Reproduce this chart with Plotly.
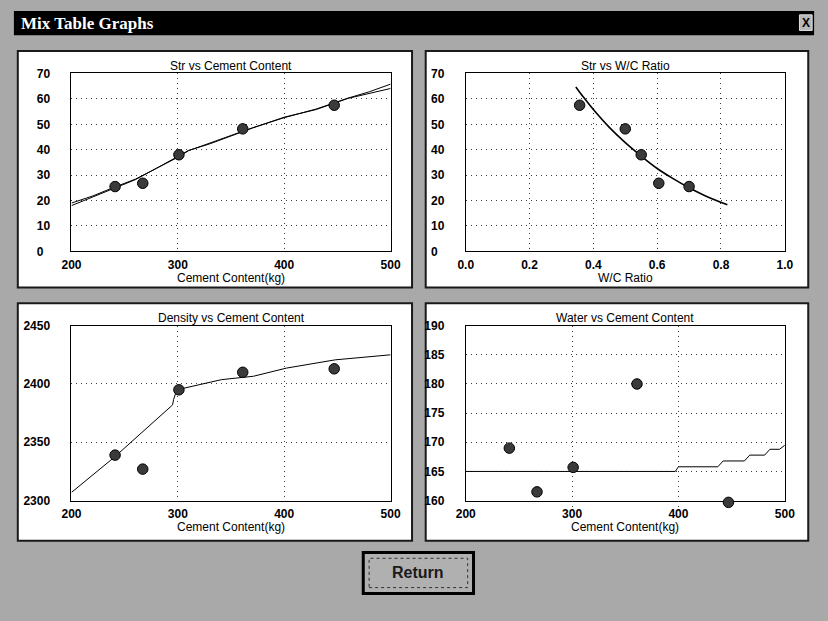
import plotly.graph_objects as go

W, H = 828, 621

# Measured mix data (5 trial batches)
cement = [241, 267, 301, 361, 447]          # kg
strength = [25.5, 26.8, 38.0, 48.2, 57.5]   # MPa
wc_ratio = [0.70, 0.605, 0.55, 0.50, 0.357]
density = [2339, 2327, 2395, 2410, 2413]
water = [169.0, 161.5, 165.7, 180.0, 159.7]

# Fitted curves
fit_cem_x = [200, 220, 240, 260, 280, 300, 310, 330, 350, 370, 400, 430, 460, 480, 500]
fit_str_a = [18.0, 21.5, 25.0, 28.2, 32.7, 37.2, 39.7, 42.3, 45.5, 48.5, 52.8, 55.8, 60.2, 62.3, 64.1]
fit_str_b = [19.0, 21.8, 25.2, 28.4, 32.7, 37.0, 39.6, 42.6, 45.8, 48.6, 52.6, 56.0, 60.3, 62.8, 65.8]

fit_wc_x = [0.345, 0.37, 0.40, 0.45, 0.50, 0.55, 0.60, 0.65, 0.70, 0.75, 0.82]
fit_wc_str = [64.7, 60.5, 55.8, 48.8, 42.8, 37.5, 32.6, 28.6, 25.0, 21.9, 18.3]

fit_den_x = [200, 240, 295, 296, 299, 307, 341, 371, 402, 448, 500]
fit_den_y = [2307, 2337, 2382, 2386.6, 2395, 2396.6, 2403.7, 2406.6, 2413.6, 2420.7, 2425]

fit_wat_x = [200, 397, 400, 437, 442, 462, 467, 481, 486, 495, 500]
fit_wat_y = [165.0, 165.0, 165.8, 165.8, 166.8, 166.8, 167.8, 167.8, 168.8, 168.8, 169.5]

# Axis ticks
cem_ticks = [200, 300, 400, 500]
wc_ticks = [0.0, 0.2, 0.4, 0.6, 0.8, 1.0]
str_ticks = [0, 10, 20, 30, 40, 50, 60, 70]
den_ticks = [2300, 2350, 2400, 2450]
wat_ticks = [160, 165, 170, 175, 180, 185, 190]

FONT = "Arial"
BG = "#a9a9a9"


def px(x):
    return x / W


def py(y):
    return 1 - y / H


def pad_labels(vals, fmt="{:g}"):
    # left-align numbers by padding with figure spaces
    txt = [fmt.format(v) for v in vals]
    n = max(len(t) for t in txt)
    return [t + "\u2007" * (n - len(t)) for t in txt]


# plot areas in pixels: (x0, x1, y0, y1)
areas = {
    1: (63, 390, 68, 250),
    2: (467, 794, 68, 250),
    3: (63, 390, 326, 505),
    4: (467, 794, 326, 505),
}

fig = go.Figure()

line = dict(color="black", width=1)
mk = dict(size=10.5, color="#3a3a3a", line=dict(color="black", width=1))

# Str vs Cement Content
fig.add_trace(go.Scatter(x=fit_cem_x, y=fit_str_a, mode="lines", line=line, xaxis="x", yaxis="y"))
fig.add_trace(go.Scatter(x=fit_cem_x, y=fit_str_b, mode="lines", line=line, xaxis="x", yaxis="y"))
fig.add_trace(go.Scatter(x=cement, y=strength, mode="markers", marker=mk, xaxis="x", yaxis="y"))

# Str vs W/C Ratio
fig.add_trace(go.Scatter(x=fit_wc_x, y=fit_wc_str, mode="lines",
                         line=dict(color="black", width=1.6, shape="spline"), xaxis="x2", yaxis="y2"))
fig.add_trace(go.Scatter(x=wc_ratio, y=strength, mode="markers", marker=mk, xaxis="x2", yaxis="y2"))

# Density vs Cement Content
fig.add_trace(go.Scatter(x=fit_den_x, y=fit_den_y, mode="lines", line=line, xaxis="x3", yaxis="y3"))
fig.add_trace(go.Scatter(x=cement, y=density, mode="markers", marker=mk, xaxis="x3", yaxis="y3"))

# Water vs Cement Content (markers on a slightly taller twin axis so the
# sub-160 batch is still drawn just below the frame)
fig.add_trace(go.Scatter(x=fit_wat_x, y=fit_wat_y, mode="lines", line=line, xaxis="x4", yaxis="y4"))
fig.add_trace(go.Scatter(x=cement, y=water, mode="markers", marker=mk, xaxis="x4", yaxis="y5", cliponaxis=False))

grid_dash = "1px,4px"
axis_common = dict(
    showline=True, linecolor="black", linewidth=1, mirror=True,
    showgrid=True, gridcolor="#3a3a3a", griddash=grid_dash, gridwidth=1,
    zeroline=False, ticks="", tickfont=dict(family=FONT, size=12, color="black", weight="bold"),
    fixedrange=True,
)

specs = {
    1: dict(xr=[200, 500], xt=cem_ticks, xl=[str(v) for v in cem_ticks],
            yr=[0, 70], yt=str_ticks),
    2: dict(xr=[0, 1], xt=wc_ticks, xl=["{:.1f}".format(v) for v in wc_ticks],
            yr=[0, 70], yt=str_ticks),
    3: dict(xr=[200, 500], xt=cem_ticks, xl=[str(v) for v in cem_ticks],
            yr=[2300, 2450], yt=den_ticks),
    4: dict(xr=[200, 500], xt=cem_ticks, xl=[str(v) for v in cem_ticks],
            yr=[160, 190], yt=wat_ticks),
}

layout_axes = {}
for i, s in specs.items():
    x0, x1, y0, y1 = areas[i]
    sfx = "" if i == 1 else str(i)
    layout_axes["xaxis" + sfx] = dict(
        axis_common, domain=[px(x0), px(x1)], range=s["xr"],
        tickvals=s["xt"], ticktext=s["xl"], anchor="y" + sfx,
        ticklabelstandoff=2,
    )
    layout_axes["yaxis" + sfx] = dict(
        axis_common, domain=[py(y1), py(y0)], range=s["yr"],
        tickvals=s["yt"], ticktext=pad_labels(s["yt"]), anchor="x" + sfx,
        ticklabelstandoff=18,
    )

# twin of the water axis extended 8 px downward with the same scale
x0, x1, y0, y1 = areas[4]
lo, hi = specs[4]["yr"]
ext = 8
per_px = (hi - lo) / (y1 - y0)
layout_axes["yaxis5"] = dict(
    domain=[py(y1 + ext), py(y0)], range=[lo - ext * per_px, hi],
    anchor="x4", visible=False, fixedrange=True, showgrid=False, zeroline=False,
)

shapes = []
# title bar
shapes.append(dict(type="rect", xref="paper", yref="paper", x0=px(4), x1=px(824), y0=py(29), y1=py(4),
                   fillcolor="black", line=dict(width=0), layer="below"))
# close box
shapes.append(dict(type="rect", xref="paper", yref="paper", x0=px(809), x1=px(822), y0=py(24), y1=py(8),
                   fillcolor="#b8b8b8", line=dict(color="#e0e0e0", width=1), layer="below"))

# chart panels
panels = [(8, 412, 45, 287), (426, 818, 45, 287), (8, 412, 303, 546), (426, 818, 303, 546)]
for (a, b, c, d) in panels:
    shapes.append(dict(type="rect", xref="paper", yref="paper", x0=px(a), x1=px(b), y0=py(d), y1=py(c),
                       fillcolor="white", line=dict(color="#1a1a1a", width=2), layer="below"))

# Return button
shapes.append(dict(type="rect", xref="paper", yref="paper", x0=px(362), x1=px(475), y0=py(600), y1=py(558),
                   fillcolor="#b0b0b0", line=dict(color="black", width=3), layer="below"))
shapes.append(dict(type="rect", xref="paper", yref="paper", x0=px(368), x1=px(469), y0=py(594), y1=py(564),
                   fillcolor="rgba(0,0,0,0)", line=dict(color="#303030", width=1, dash="dot"), layer="below"))

annotations = []
titles = {
    1: "Str vs Cement Content",
    2: "Str vs W/C Ratio",
    3: "Density vs Cement Content",
    4: "Water vs Cement Content",
}
xtitles = {1: "Cement Content(kg)", 2: "W/C Ratio", 3: "Cement Content(kg)", 4: "Cement Content(kg)"}
for i in range(1, 5):
    x0, x1, y0, y1 = areas[i]
    cx = (x0 + x1) / 2
    annotations.append(dict(text=titles[i], xref="paper", yref="paper", x=px(cx), y=py(y0 - 8),
                            showarrow=False, xanchor="center", yanchor="middle",
                            font=dict(family=FONT, size=12, color="black")))
    annotations.append(dict(text=xtitles[i], xref="paper", yref="paper", x=px(cx), y=py(y1 + 27),
                            showarrow=False, xanchor="center", yanchor="middle",
                            font=dict(family=FONT, size=12, color="black")))

annotations.append(dict(text="<b>Mix Table Graphs</b>", xref="paper", yref="paper", x=px(9), y=py(16.5),
                        showarrow=False, xanchor="left", yanchor="middle",
                        font=dict(family="Liberation Serif", size=17, color="white")))
annotations.append(dict(text="<b>X</b>", xref="paper", yref="paper", x=px(815.5), y=py(16),
                        showarrow=False, xanchor="center", yanchor="middle",
                        font=dict(family=FONT, size=12, color="black")))
annotations.append(dict(text="<b>Return</b>", xref="paper", yref="paper", x=px(418.5), y=py(579),
                        showarrow=False, xanchor="center", yanchor="middle",
                        font=dict(family=FONT, size=16, color="#1a1a1a")))

fig.update_layout(
    width=W, height=H,
    margin=dict(l=0, r=0, t=0, b=0),
    paper_bgcolor=BG, plot_bgcolor="rgba(0,0,0,0)",
    showlegend=False,
    shapes=shapes,
    annotations=annotations,
    **layout_axes,
)

fig.write_html("out.html", config={"displayModeBar": False})
